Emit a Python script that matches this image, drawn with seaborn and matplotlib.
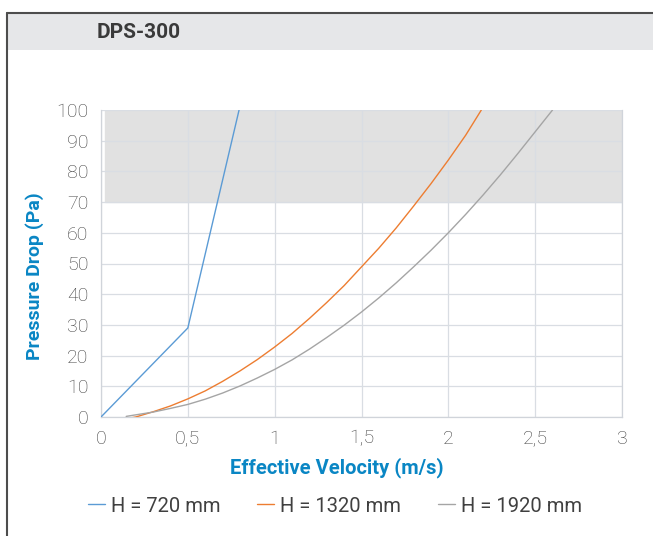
import numpy as np
import pandas as pd
import matplotlib
matplotlib.use("Agg")
import matplotlib.pyplot as plt
from matplotlib.lines import Line2D
from matplotlib.patches import Rectangle
import seaborn as sns

# Values
series_names = ["H = 720 mm", "H = 1320 mm", "H = 1920 mm"]
series_colors = ["#5b9bd5", "#ed7d31", "#a5a5a5"]

v_720 = [0.0, 0.5, 0.795]
dp_720 = [0.0, 29.0, 100.0]

v_1320 = [0.15, 0.2, 0.3, 0.4, 0.5, 0.6, 0.7, 0.8, 0.9, 1.0, 1.1, 1.2, 1.3,
          1.4, 1.5, 1.6, 1.7, 1.8, 1.9, 2.0, 2.1, 2.19]
dp_1320 = [-0.5, 0.0, 1.7, 3.6, 5.9, 8.5, 11.6, 15.0, 18.7, 22.8, 27.2, 32.1, 37.3,
           42.8, 48.9, 55.0, 61.6, 68.7, 76.0, 83.7, 91.8, 100.0]

v_1920 = [0.145, 0.2, 0.3, 0.4, 0.5, 0.6, 0.7, 0.8, 0.9, 1.0, 1.1, 1.2, 1.3,
          1.4, 1.5, 1.6, 1.7, 1.8, 1.9, 2.0, 2.1, 2.2, 2.3, 2.4, 2.5, 2.6]
dp_1920 = [0.2, 0.7, 1.6, 2.8, 4.1, 5.8, 7.8, 10.1, 12.7, 15.5, 18.6, 22.1, 25.9,
           29.9, 34.2, 38.8, 43.7, 48.9, 54.3, 60.0, 66.0, 72.3, 78.9, 85.8, 92.9, 100.0]

x_ticks = [0, 0.5, 1, 1.5, 2, 2.5, 3]
x_tick_labels = ["0", "0,5", "1", "1,5", "2", "2,5", "3"]
y_ticks = list(range(0, 101, 10))

title = "DPS-300"
x_label = "Effective Velocity (m/s)"
y_label = "Pressure Drop (Pa)"

df = pd.concat([
    pd.DataFrame({"v": v_720, "dp": dp_720, "series": series_names[0]}),
    pd.DataFrame({"v": v_1320, "dp": dp_1320, "series": series_names[1]}),
    pd.DataFrame({"v": v_1920, "dp": dp_1920, "series": series_names[2]}),
], ignore_index=True)

sns.set_theme(style="white")
plt.rcParams["font.family"] = ["Roboto", "DejaVu Sans"]

W, H = 653, 536
fig = plt.figure(figsize=(W / 100, H / 100), dpi=100)
ax = fig.add_axes([101 / W, 1 - 417 / H, (622 - 101) / W, (417 - 110) / H])

# header band + frame
fig.patches.append(Rectangle((7 / W, 1 - 50 / H), 1, 37 / H, transform=fig.transFigure,
                             facecolor="#e6e7e9", edgecolor="none", zorder=0))
fig.add_artist(Line2D([7 / W, 7 / W], [0, 1 - 13 / H], color="#4d4d4d", lw=1.5))
fig.add_artist(Line2D([7 / W, 1], [1 - 13 / H, 1 - 13 / H], color="#4d4d4d", lw=1.5))
fig.text(97 / W, 1 - 32 / H, title, fontsize=15, fontweight="bold", color="#3a3a3a",
         va="center", ha="left")

# shaded zone above 70 Pa
ax.axhspan(70, 100, xmin=0.008, xmax=1, color="#e1e1e1", zorder=0)

sns.lineplot(data=df, x="v", y="dp", hue="series", palette=series_colors,
             sort=False, estimator=None, linewidth=1.0, ax=ax, legend=False, zorder=3)

ax.set_xlim(0, 3)
ax.set_ylim(0, 100)
ax.set_xticks(x_ticks)
ax.set_xticklabels(x_tick_labels)
ax.set_yticks(y_ticks)
ax.grid(True, color="#d9dde3", linewidth=0.9, zorder=1)
ax.set_axisbelow(True)
for side in ["left", "bottom", "right"]:
    ax.spines[side].set_visible(True)
    ax.spines[side].set_color("#d0d4da")
    ax.spines[side].set_linewidth(0.9)
ax.spines["top"].set_visible(False)
ax.tick_params(axis="both", length=0, labelsize=14, labelcolor="#404040", pad=9)
for lab in ax.get_xticklabels() + ax.get_yticklabels():
    lab.set_fontweight("light")

ax.set_xlabel(x_label, fontsize=14.5, fontweight="bold", color="#0a86c4", va="center")
ax.set_ylabel(y_label, fontsize=14, fontweight="bold", color="#0a86c4", va="center")
ax.xaxis.set_label_coords(0.453, -0.166)
ax.yaxis.set_label_coords(-0.127, 0.46)

handles = [Line2D([], [], color=c, lw=1.0) for c in series_colors]
fig.legend(handles, series_names, loc="center", bbox_to_anchor=(335 / W, 1 - 506 / H),
           ncol=3, frameon=False, fontsize=14.5, handlelength=0.85, handletextpad=0.3,
           columnspacing=1.8, labelcolor="#404040")

fig.savefig("out.png", dpi=100)
